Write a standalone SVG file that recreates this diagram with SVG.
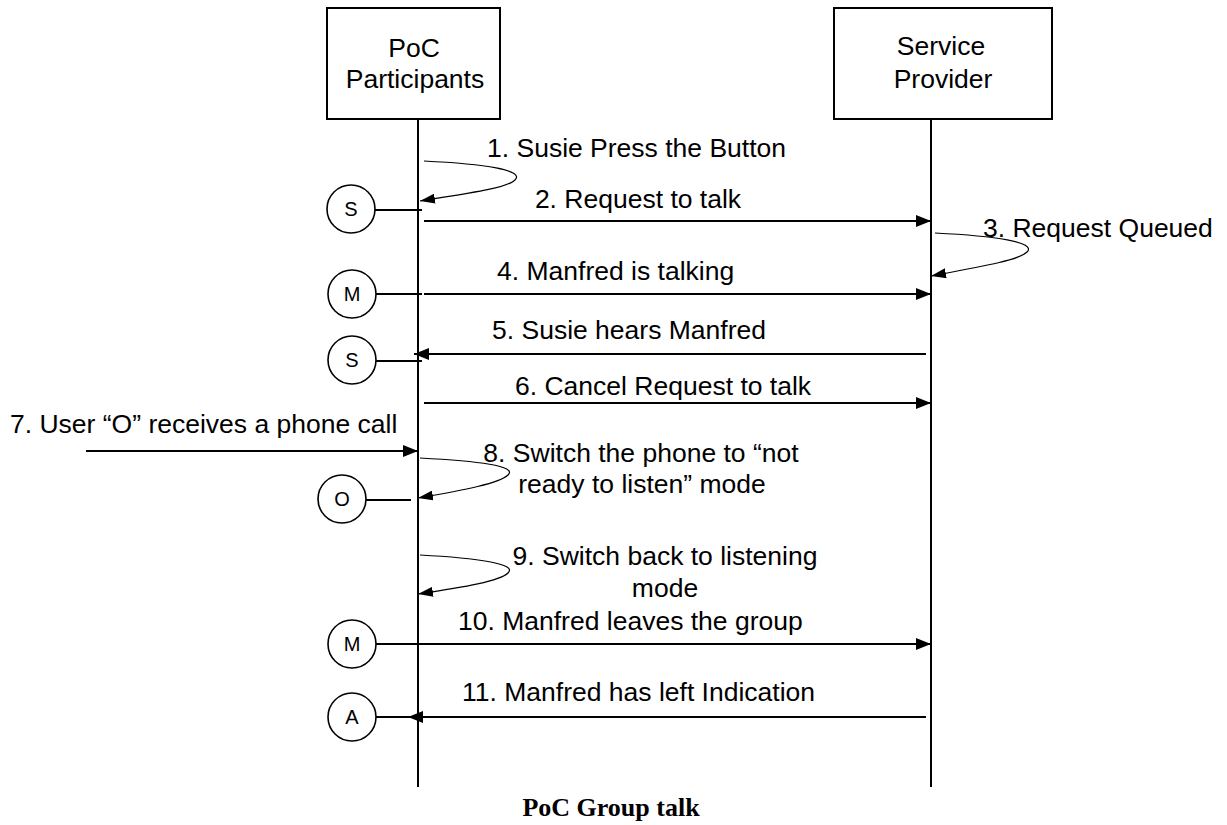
<svg xmlns="http://www.w3.org/2000/svg" width="1227" height="825" viewBox="0 0 1227 825">
  <style>
    .box { fill: #fff; stroke: #000; stroke-width: 2; }
    .life { stroke: #000; stroke-width: 2; fill: none; }
    .msg { stroke: #000; stroke-width: 2; fill: none; }
    .loop { stroke: #000; stroke-width: 1.2; fill: none; }
    .tie { stroke: #000; stroke-width: 2; fill: none; }
    .user { fill: #fff; stroke: #000; stroke-width: 1.6; }
    .t { font-family: "Liberation Sans", Arial, sans-serif; font-size: 26.5px; fill: #000; }
    .u { font-family: "Liberation Sans", Arial, sans-serif; font-size: 20px; fill: #000; text-anchor: middle; }
    .cap { font-family: "Liberation Serif", "Times New Roman", serif; font-size: 26px; font-weight: bold; fill: #000; text-anchor: middle; }
  </style>
  <defs>
    <marker id="arr" markerUnits="userSpaceOnUse" markerWidth="16" markerHeight="12" refX="15" refY="6" orient="auto">
      <path d="M0,0 L15,6 L0,12 z" fill="#000"/>
    </marker>
    <marker id="arrS" markerUnits="userSpaceOnUse" markerWidth="16" markerHeight="10" refX="15" refY="5" orient="auto">
      <path d="M0,0 L15,5 L0,10 z" fill="#000"/>
    </marker>
  </defs>

  <!-- lifeline heads -->
  <g id="poc-participants">
    <rect class="box" x="327" y="8" width="173" height="111"/>
    <text class="t" x="414" y="57" text-anchor="middle">PoC</text>
    <text class="t" x="415" y="88" text-anchor="middle">Participants</text>
    <line class="life" x1="418" y1="119" x2="418" y2="787"/>
  </g>
  <g id="service-provider">
    <rect class="box" x="834" y="8" width="218" height="111"/>
    <text class="t" x="941" y="55" text-anchor="middle">Service</text>
    <text class="t" x="943" y="88" text-anchor="middle">Provider</text>
    <line class="life" x1="931" y1="119" x2="931" y2="787"/>
  </g>

  <!-- users -->
  <g id="user-s1"><circle class="user" cx="351" cy="209" r="24"/><text class="u" x="351" y="216">S</text></g>
  <g id="user-m1"><circle class="user" cx="352" cy="294" r="24"/><text class="u" x="352" y="301">M</text></g>
  <g id="user-s2"><circle class="user" cx="352" cy="360" r="24"/><text class="u" x="352" y="367">S</text></g>
  <g id="user-o"><circle class="user" cx="342" cy="499" r="24"/><text class="u" x="342" y="506">O</text></g>
  <g id="user-m2"><circle class="user" cx="352" cy="644" r="24"/><text class="u" x="352" y="651">M</text></g>
  <g id="user-a"><circle class="user" cx="352" cy="717" r="24"/><text class="u" x="352" y="724">A</text></g>

  <!-- connectors -->
  <g id="connectors">
    <line class="tie" x1="375" y1="210" x2="422" y2="210"/>
    <line class="tie" x1="376" y1="294" x2="422" y2="294"/>
    <line class="tie" x1="376" y1="361" x2="422" y2="361"/>
    <line class="tie" x1="366" y1="500" x2="411" y2="500"/>
    <line class="tie" x1="376" y1="644" x2="418" y2="644"/>
    <line class="tie" x1="376" y1="717" x2="418" y2="717"/>

    <path class="loop" d="M424,161 C485,164 525,170 515,180 C507,188 470,193 420,201" marker-end="url(#arrS)"/>
    <path class="msg" d="M424,221 H931" marker-end="url(#arr)"/>
    <path class="loop" d="M935,233 C995,236 1037,242 1027,252 C1019,260 985,266 931,276" marker-end="url(#arrS)"/>
    <path class="msg" d="M424,294 H931" marker-end="url(#arr)"/>
    <path class="msg" d="M926,354 H414" marker-end="url(#arr)"/>
    <path class="msg" d="M424,403 H931" marker-end="url(#arr)"/>
    <path class="msg" d="M86,451 H418" marker-end="url(#arr)"/>
    <path class="loop" d="M420,458 C478,461 518,466 508,475 C500,483 465,490 418,498" marker-end="url(#arrS)"/>
    <path class="loop" d="M420,555 C478,558 518,564 508,573 C500,581 465,587 418,594" marker-end="url(#arrS)"/>
    <path class="msg" d="M418,644 H931" marker-end="url(#arr)"/>
    <path class="msg" d="M926,717 H408" marker-end="url(#arr)"/>
  </g>

  <!-- message labels -->
  <g id="labels">
    <text class="t" x="487" y="157">1. Susie Press the Button</text>
    <text class="t" x="638" y="208" text-anchor="middle">2. Request to talk</text>
    <text class="t" x="983" y="237">3. Request Queued</text>
    <text class="t" x="497" y="280">4. Manfred is talking</text>
    <text class="t" x="492" y="339">5. Susie hears Manfred</text>
    <text class="t" x="515" y="395">6. Cancel Request to talk</text>
    <text class="t" x="10" y="433">7. User “O” receives a phone call</text>
    <text class="t" x="641" y="462" text-anchor="middle">8. Switch the phone to “not</text>
    <text class="t" x="642" y="493" text-anchor="middle">ready to listen” mode</text>
    <text class="t" x="665" y="565" text-anchor="middle">9. Switch back to listening</text>
    <text class="t" x="665" y="597" text-anchor="middle">mode</text>
    <text class="t" x="458" y="630">10. Manfred leaves the group</text>
    <text class="t" x="462" y="701">11. Manfred has left Indication</text>
  </g>

  <text class="cap" x="611" y="816">PoC Group talk</text>
</svg>
